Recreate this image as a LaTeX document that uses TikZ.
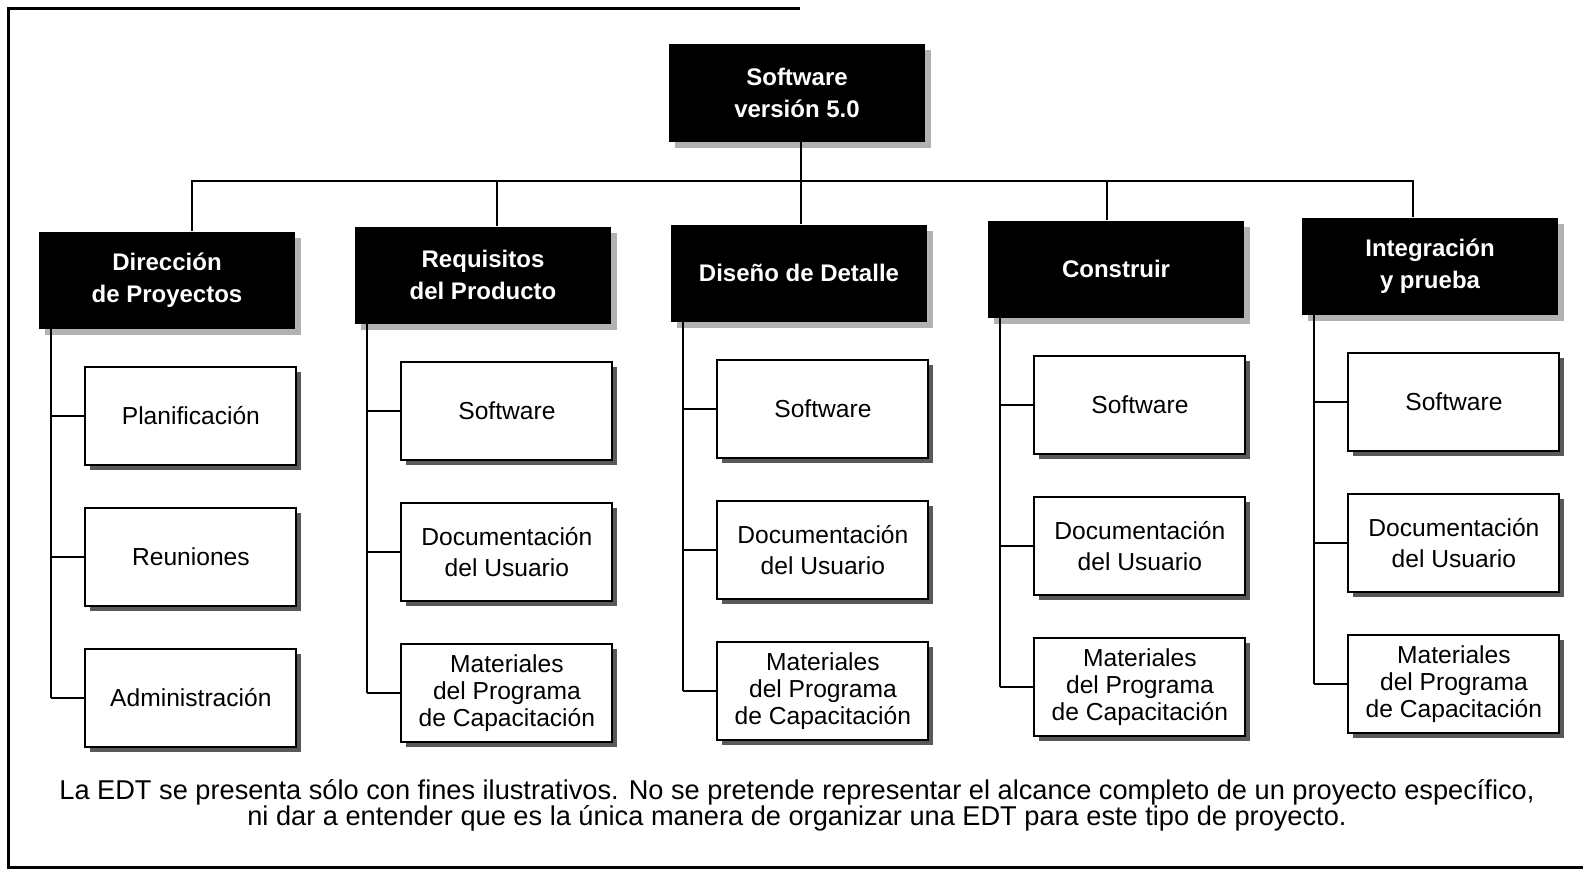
\documentclass[tikz,border=0pt]{standalone}
\usepackage{fontspec}
\setmainfont{Liberation Sans}
\usetikzlibrary{positioning, shadows, calc}
\tikzset{
    phase/.style={rectangle, fill=black, text=white, align=center,
      font=\bfseries\fontsize{12}{16}\selectfont,
      minimum width=128pt, minimum height=48.5pt,
      drop shadow={shadow xshift=3pt, shadow yshift=-3pt, fill=black!30, opacity=1}},
    item/.style={rectangle, draw, line width=1pt, fill=white, align=center,
      font=\fontsize{12.3}{15.5}\selectfont,
      minimum width=105.5pt, minimum height=49pt,
      drop shadow={shadow xshift=2.5pt, shadow yshift=-2.5pt, fill=black!65, opacity=1}},
    longitem/.style={item, font=\fontsize{12.3}{13.4}\selectfont},
    link/.style={line width=1pt},
    note/.style={align=center, font=\fontsize{13.6}{13.2}\selectfont},
}

\begin{document}
\begin{tikzpicture}[x=0.5pt, y=-0.5pt]
    \useasboundingbox (0,0) rectangle (1583,872);
    \draw[line width=1.5pt] (800,9) -- (8,9) -- (8,867) -- (1583,867);

    \node[phase] (sw) at (797,93) {Software\\versión 5.0};

    \node[phase] (dir) at (167,280) {Dirección\\de Proyectos};
    \node[phase] (req) at (483,275) {Requisitos\\del Producto};
    \node[phase] (dis) at (799,273) {Diseño de Detalle};
    \node[phase] (con) at (1116,269) {Construir};
    \node[phase] (integ) at (1430,266) {Integración\\y prueba};

    \node[item, below left=18.5pt and -1pt of dir.south east] (dir1) {Planificación};
    \node[item, below=20.5pt of dir1] (dir2) {Reuniones};
    \node[item, below=20.5pt of dir2] (dir3) {Administración};

    \node[item, below left=18.5pt and -1pt of req.south east] (req1) {Software};
    \node[item, below=20.5pt of req1] (req2) {Documentación\\del Usuario};
    \node[longitem, below=20.5pt of req2] (req3) {Materiales\\del Programa\\de Capacitación};

    \node[item, below left=18.5pt and -1pt of dis.south east] (dis1) {Software};
    \node[item, below=20.5pt of dis1] (dis2) {Documentación\\del Usuario};
    \node[longitem, below=20.5pt of dis2] (dis3) {Materiales\\del Programa\\de Capacitación};

    \node[item, below left=18.5pt and -1pt of con.south east] (con1) {Software};
    \node[item, below=20.5pt of con1] (con2) {Documentación\\del Usuario};
    \node[longitem, below=20.5pt of con2] (con3) {Materiales\\del Programa\\de Capacitación};

    \node[item, below left=18.5pt and -1pt of integ.south east] (integ1) {Software};
    \node[item, below=20.5pt of integ1] (integ2) {Documentación\\del Usuario};
    \node[longitem, below=20.5pt of integ2] (integ3) {Materiales\\del Programa\\de Capacitación};

    % bus from the root down to the five phases
    \coordinate (bus) at (797,181);
    \draw[link] ($(sw.south)+(4,0)$) coordinate (sws) -- (sws |- bus);
    \draw[link] ($(dir.north)+(25,0)$) |- (bus) -| ($(integ.north)+(-17,0)$);
    \foreach \p/\dx in {dir/25, req/14, dis/2, con/-9, integ/-17}
      \draw[link] ($(\p.north)+(\dx,0)$) coordinate (\p n) -- (\p n |- bus);

    % spine and branches of every phase
    \foreach \p in {dir, req, dis, con, integ} {
      \draw[link] ($(\p.south west)+(12,0)$) coordinate (\p s) -- (\p s |- \p3.west);
      \foreach \k in {1,2,3}
        \draw[link] (\p s |- \p\k.west) -- (\p\k.west);
    }

    \node[note] (nota) at (797,805) {La EDT se presenta sólo con fines ilustrativos. No se pretende representar el alcance completo de un proyecto específico,\\ni dar a entender que es la única manera de organizar una EDT para este tipo de proyecto.};
\end{tikzpicture}
\end{document}
